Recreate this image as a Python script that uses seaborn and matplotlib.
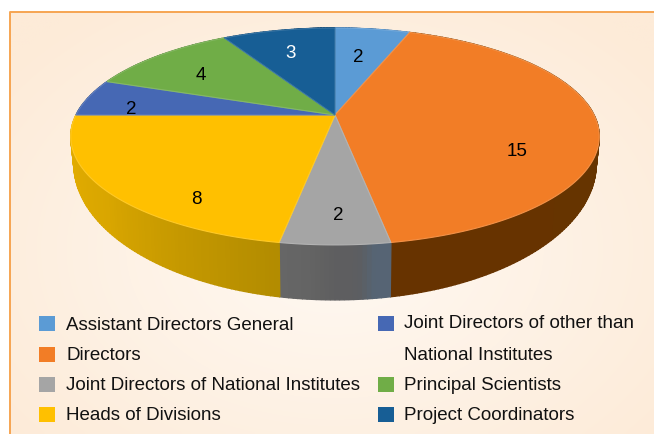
import numpy as np
import pandas as pd
import matplotlib
matplotlib.use("Agg")
import matplotlib.pyplot as plt
from matplotlib.patches import Rectangle
import seaborn as sns

# dados do grafico
CATEGORIAS = [
    "Assistant Directors General",
    "Directors",
    "Joint Directors of National Institutes",
    "Heads of Divisions",
    "Joint Directors of other than\nNational Institutes",
    "Principal Scientists",
    "Project Coordinators",
]
VALORES = [2, 15, 2, 8, 2, 4, 3]

CORES = ["#5b9bd5", "#f27d26", "#a5a5a5", "#ffc000", "#4668b4", "#70ad47", "#175e95"]
CORES_ROTULO = ["black", "black", "black", "black", "black", "black", "white"]
POS_ROTULOS = [(358, 58), (517, 152), (338, 216), (196, 200), (131, 110), (201, 76), (291, 54)]

# tons da parede lateral, na ordem do angulo crescente
TONS_PAREDE = [
    ["#3f6f9f", "#3f6f9f"],
    ["#673300", "#663400", "#6a3600"],
    ["#666666", "#656565", "#646464", "#616161", "#5e5e60", "#5e5e60", "#5c5e62", "#566474", "#566474"],
    ["#e8b000", "#d9a600", "#b38c00"],
    ["#2f4a80", "#2f4a80"],
    ["#4d7a30", "#4d7a30"],
    ["#0f4068", "#0f4068"],
]

# legenda: coluna, linha (as linhas tem 30.5 px)
LEGENDA_POS = [(0, 0), (0, 1), (0, 2), (0, 3), (1, 1), (1, 2), (1, 3)]
LEGENDA_X = [39, 378]
LEGENDA_Y = [323.5, 354, 384, 414.5]

FONTE = "Liberation Sans"
TAM_FONTE = 13.5

# projecao em perspectiva do circulo unitario (y para cima)
CENTRO_X, CENTRO_Y = 335, 115
INCL = 0.198


def projeta_topo(ang):
    x, y = np.cos(ang), np.sin(ang)
    w = 1 + INCL * y
    return CENTRO_X + 259 * x / w, CENTRO_Y - 104.2 * y / w


def projeta_base(ang):
    x, y = np.cos(ang), np.sin(ang)
    w = 1 + INCL * y
    return CENTRO_X + 256 * x / w, 137 - 130.6 * y / w


def fatia_topo(t1, t2):
    ang = np.radians(np.linspace(t1, t2, 120))
    xs, ys = projeta_topo(ang)
    return np.r_[CENTRO_X, xs], np.r_[CENTRO_Y, ys]


def clarear(cor, f=0.15):
    c = np.array(matplotlib.colors.to_rgb(cor))
    return tuple(c + (1 - c) * f)


def desenha_fundo(ax):
    xx, yy = np.meshgrid(np.linspace(10, 654, 160), np.linspace(12, 434, 110))
    d = np.sqrt(((xx - 335) / 420) ** 2 + ((yy - 250) / 300) ** 2)
    d = np.clip(d, 0, 1)[..., None]
    claro = np.array(matplotlib.colors.to_rgb("#fff9f3"))
    escuro = np.array(matplotlib.colors.to_rgb("#fdebd8"))
    img = claro * (1 - d) + escuro * d
    ax.imshow(img, extent=(10, 654, 434, 12), aspect="auto", zorder=0, interpolation="bilinear")
    ax.plot([10, 10, 654], [434, 12, 12], color="#f6a552", lw=1.4, zorder=1, solid_capstyle="butt")


def main():
    sns.set_theme(style="white")
    plt.rcParams["font.family"] = [FONTE, "DejaVu Sans"]

    dados = pd.DataFrame({"categoria": CATEGORIAS, "valor": VALORES})
    paleta = sns.color_palette(CORES)

    fig = plt.figure(figsize=(6.54, 4.34), dpi=100)
    ax = fig.add_axes([0, 0, 1, 1])

    # a pizza da os angulos de cada fatia; depois vira 3D na mao
    fatias, _ = ax.pie(dados["valor"], startangle=90, counterclock=False, colors=paleta)
    angulos = [(f.theta1, f.theta2) for f in fatias]
    for f in fatias:
        f.remove()

    ax.set_aspect("auto")
    desenha_fundo(ax)

    # paredes laterais
    for (t1, t2), tons in zip(angulos, TONS_PAREDE):
        n = max(int((t2 - t1) * 1.2), 4)
        degrade = sns.blend_palette(tons, n)
        limites = np.radians(np.linspace(t1, t2, n + 1))
        for i in range(n):
            ang = np.linspace(limites[i], limites[i + 1], 4)
            xt, yt = projeta_topo(ang)
            xb, yb = projeta_base(ang)
            ax.fill(np.r_[xt, xb[::-1]], np.r_[yt, yb[::-1]], color=degrade[i], lw=1.0, zorder=2)

    # faces de cima
    for (t1, t2), cor in zip(angulos, paleta):
        xs, ys = fatia_topo(t1, t2)
        ax.fill(xs, ys, facecolor=cor, edgecolor=clarear(cor), lw=0.8, zorder=3)

    for texto, cor, (x, y) in zip(dados["valor"], CORES_ROTULO, POS_ROTULOS):
        ax.text(x, y, str(texto), color=cor, fontsize=TAM_FONTE, ha="center", va="center", zorder=4)

    # legenda feita a mao porque o rotulo de duas linhas fica com o quadrado na primeira
    for nome, cor, (col, lin) in zip(dados["categoria"], paleta, LEGENDA_POS):
        if "\n" in nome:
            lin = lin - 1
        x, y = LEGENDA_X[col], LEGENDA_Y[lin]
        ax.add_patch(Rectangle((x, y - 7.5), 16, 15, facecolor=cor, edgecolor="none", zorder=4))
        base = y + 6 + (LEGENDA_Y[lin + 1] - y if "\n" in nome else 0)
        ax.text(x + 27 - col, base, nome, fontsize=TAM_FONTE, color="#111111", ha="left", va="baseline",
                linespacing=2.12, zorder=4)

    ax.set_xlim(0, 654)
    ax.set_ylim(434, 0)
    ax.axis("off")
    fig.savefig("out.png", dpi=100, facecolor="white")


if __name__ == "__main__":
    main()
